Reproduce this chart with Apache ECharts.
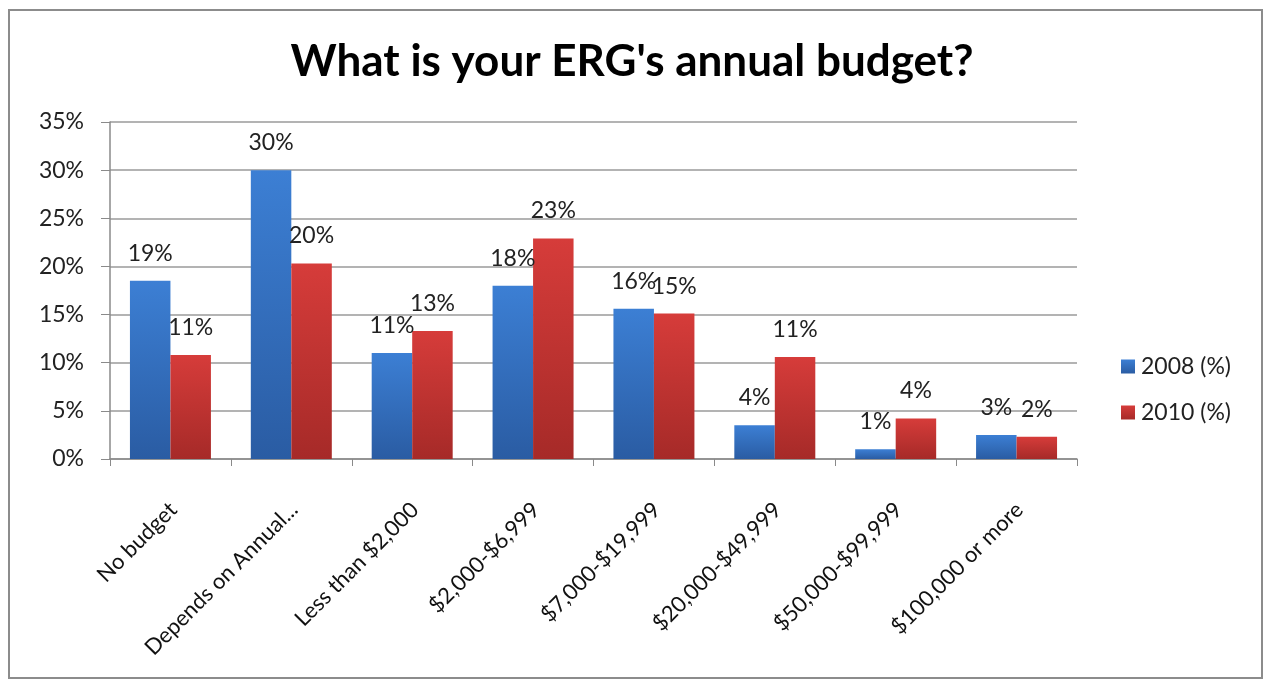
<!DOCTYPE html>
<html>
<head>
<meta charset="utf-8">
<style>
  html, body { margin: 0; padding: 0; background: #ffffff; }
  #chart { width: 1264px; height: 681px; }
</style>
<script src="https://cdn.jsdelivr.net/npm/echarts@6/dist/echarts.min.js"></script>
</head>
<body>
<div id="chart"></div>
<script>
// Budget ranges surveyed
const categories = [
  'No budget',
  'Depends on Annual...',
  'Less than $2,000',
  '$2,000-$6,999',
  '$7,000-$19,999',
  '$20,000-$49,999',
  '$50,000-$99,999',
  '$100,000 or more'
];

// Share of responses (%)
const values2008 = [18.5, 30.0, 11.0, 18.0, 15.6, 3.5, 1.0, 2.5];
const values2010 = [10.8, 20.3, 13.3, 22.9, 15.1, 10.6, 4.2, 2.3];

const seriesNames = ['2008 (%)', '2010 (%)'];
const yTicks = [0, 5, 10, 15, 20, 25, 30, 35];

const FONT = 'Lato, "Open Sans", "Noto Sans", sans-serif';

function grad(top, bottom) {
  return new echarts.graphic.LinearGradient(0, 0, 0, 1, [
    { offset: 0, color: top },
    { offset: 1, color: bottom }
  ]);
}

const chart = echarts.init(document.getElementById('chart'), null, { renderer: 'canvas' });

const labelCfg = {
  show: true,
  position: 'top',
  distance: 16,
  fontFamily: FONT,
  fontSize: 23,
  color: '#222222',
  formatter: p => Math.round(p.value) + '%'
};

chart.setOption({
  backgroundColor: '#ffffff',
  animation: false,
  graphic: [{
    type: 'rect',
    shape: { x: 9, y: 10, width: 1253, height: 668 },
    style: { fill: 'none', stroke: '#8c8c8c', lineWidth: 2 },
    silent: true,
    z: -1
  }],
  title: {
    text: "What is your ERG's annual budget?",
    left: 'center',
    top: 35,
    textStyle: { fontFamily: FONT, fontSize: 44, fontWeight: 'bold', color: '#000000' }
  },
  legend: {
    orient: 'vertical',
    left: 1116,
    top: 350,
    itemWidth: 14,
    itemHeight: 14,
    itemGap: 23,
    icon: 'rect',
    textStyle: { fontFamily: FONT, fontSize: 23, color: '#222222', padding: [0, 0, 0, 1] },
    data: seriesNames
  },
  grid: { left: 110, right: 187, top: 122, bottom: 222, containLabel: false },
  xAxis: {
    type: 'category',
    data: categories,
    axisLine: { lineStyle: { color: '#8a8a8a', width: 1.5 } },
    axisTick: { show: true, length: 7, lineStyle: { color: '#8a8a8a' } },
    axisLabel: {
      rotate: 45,
      interval: 0,
      margin: 50,
      padding: [0, -4, 0, 0],
      fontFamily: FONT,
      fontSize: 22,
      color: '#111111'
    }
  },
  yAxis: {
    type: 'value',
    min: 0,
    max: 35,
    interval: 5,
    axisLine: { show: true, lineStyle: { color: '#8a8a8a', width: 1.5 } },
    axisTick: { show: true, length: 9, lineStyle: { color: '#8a8a8a' } },
    splitLine: { lineStyle: { color: '#9a9a9a', width: 1.5 } },
    axisLabel: {
      margin: 26,
      fontFamily: FONT,
      fontSize: 23,
      color: '#222222',
      formatter: v => (yTicks.includes(v) ? v + '%' : '')
    }
  },
  series: [
    {
      name: seriesNames[0],
      type: 'bar',
      data: values2008,
      barGap: '0%',
      barCategoryGap: '33%',
      itemStyle: { color: grad('#3c7fd4', '#2a5ca3') },
      label: labelCfg
    },
    {
      name: seriesNames[1],
      type: 'bar',
      data: values2010,
      barGap: '0%',
      barCategoryGap: '33%',
      itemStyle: { color: grad('#d63c3a', '#a62a28') },
      label: labelCfg
    }
  ]
});
</script>
</body>
</html>
